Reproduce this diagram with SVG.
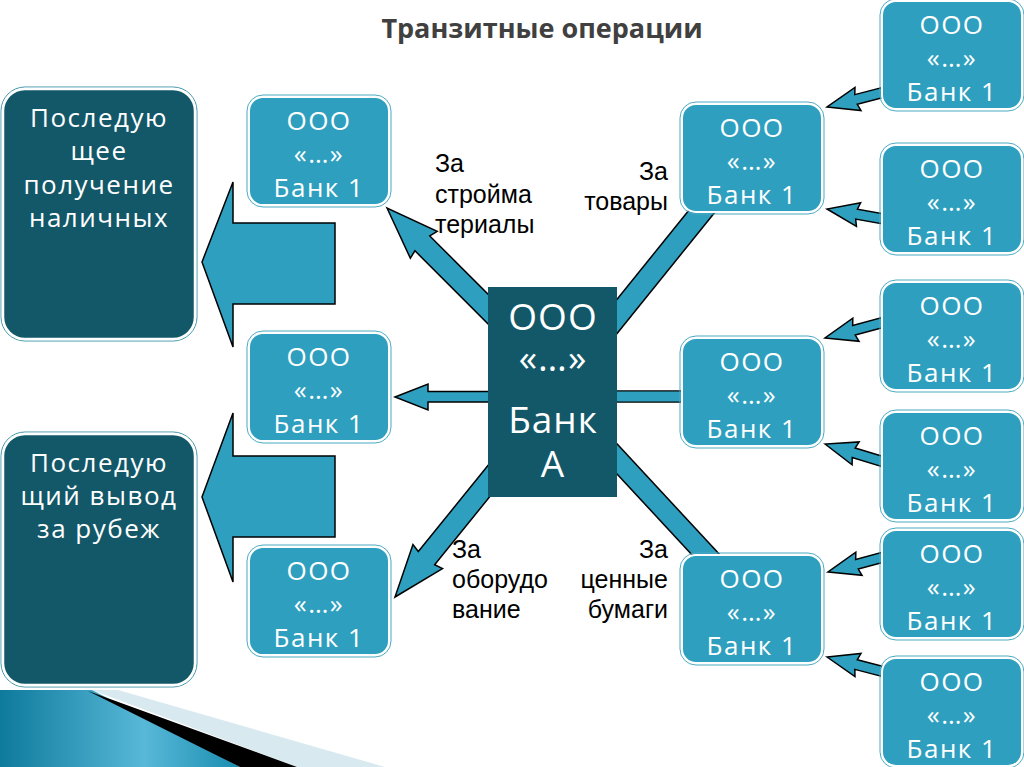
<svg xmlns="http://www.w3.org/2000/svg" width="1024" height="767" viewBox="0 0 1024 767">
<defs>
<style>
.dk{fill:#135869;stroke:#ffffff;stroke-width:2.5}
.dko{fill:none;stroke:#3f95aa;stroke-width:1}
.bx{fill:#2e9fbe;stroke:#ffffff;stroke-width:2}
.bxo{fill:none;stroke:#4aa9c2;stroke-width:1}
.bt{font-family:"Open Sans","DejaVu Sans",sans-serif;font-size:26px;fill:#ffffff;text-anchor:middle;letter-spacing:1.5px}
.ct{font-family:"Open Sans","DejaVu Sans",sans-serif;font-size:37px;fill:#ffffff;text-anchor:middle;letter-spacing:1px}
.lt{font-family:"Open Sans","DejaVu Sans",sans-serif;font-size:26px;fill:#ffffff;text-anchor:middle;letter-spacing:1.5px}
.lb{font-family:"Liberation Sans",Arial,sans-serif;font-size:25px;fill:#000000}
.ar{fill:#2e9fbe;stroke:#000000;stroke-width:1.5;stroke-linejoin:miter}
.lnk{stroke:#000000;fill:none}
.lnt{stroke:#2e9fbe;fill:none}
</style>
<linearGradient id="tg" x1="0" y1="0" x2="240" y2="0" gradientUnits="userSpaceOnUse">
<stop offset="0" stop-color="#0e7a9c"/>
<stop offset="0.6" stop-color="#58b8d8"/>
<stop offset="1" stop-color="#1a8db0"/>
</linearGradient>
</defs>
<rect width="1024" height="767" fill="#ffffff"/>

<g id="decoration">
<polygon points="92,690 118,690 385,767 297,767" fill="#d8e9f0"/>
<polygon points="0,690 92,690 240,767 0,767" fill="url(#tg)"/>
<polygon points="88,691 297,767 240,767" fill="#000000"/>
</g>

<text x="542" y="38" font-family="'Open Sans','DejaVu Sans',sans-serif" font-size="27" font-weight="bold" fill="#404040" text-anchor="middle">Транзитные операции</text>

<g id="connectors">
<polygon class="ar" points="202,262 233,182 233,223 335,223 335,304 233,304 233,347"/>
<polygon class="ar" points="202,497 233,413 233,456 335,456 335,537 233,537 233,582"/>
<polygon class="ar" transform="translate(387,208) rotate(225)" points="0,0 -52,-19 -50,-10.5 -200,-10.5 -200,10.5 -50,10.5 -52,19"/>
<polygon class="ar" transform="translate(395,597) rotate(129)" points="0,0 -52,-19 -50,-10.5 -200,-10.5 -200,10.5 -50,10.5 -52,19"/>
<polygon class="ar" points="395,397 428,384 428,391.5 500,391.5 500,402 428,402 428,410"/>
<line class="lnk" x1="575" y1="368.5" x2="715" y2="195" stroke-width="23"/>
<line class="lnt" x1="575" y1="368.5" x2="715" y2="195" stroke-width="20"/>
<line class="lnk" x1="580" y1="419" x2="720" y2="570" stroke-width="22"/>
<line class="lnt" x1="580" y1="419" x2="720" y2="570" stroke-width="19"/>
<line class="lnk" x1="600" y1="396.5" x2="700" y2="396.5" stroke-width="12.5"/>
<line class="lnt" x1="600" y1="396.5" x2="700" y2="396.5" stroke-width="10"/>
<polygon class="ar" transform="translate(827,107) rotate(165.5)" points="0,0 -32,-12 -30,-5 -62,-5 -62,5 -30,5 -32,12"/>
<polygon class="ar" transform="translate(827,209) rotate(190)" points="0,0 -32,-12 -30,-5 -62,-5 -62,5 -30,5 -32,12"/>
<polygon class="ar" transform="translate(825,338) rotate(165)" points="0,0 -32,-12 -30,-5 -62,-5 -62,5 -30,5 -32,12"/>
<polygon class="ar" transform="translate(825,444) rotate(197)" points="0,0 -32,-12 -30,-5 -62,-5 -62,5 -30,5 -32,12"/>
<polygon class="ar" transform="translate(828,572) rotate(165)" points="0,0 -32,-12 -30,-5 -62,-5 -62,5 -30,5 -32,12"/>
<polygon class="ar" transform="translate(827,657) rotate(194.5)" points="0,0 -32,-12 -30,-5 -62,-5 -62,5 -30,5 -32,12"/>
</g>

<g id="left-box-1">
<rect class="dko" x="1" y="87" width="196" height="254" rx="24"/>
<rect class="dk" x="3" y="89" width="192" height="250" rx="22"/>
<text class="lt" x="99" y="127">Последую</text>
<text class="lt" x="99" y="160">щее</text>
<text class="lt" x="99" y="194">получение</text>
<text class="lt" x="99" y="227">наличных</text>
</g>
<g id="left-box-2">
<rect class="dko" x="1" y="432" width="196" height="255" rx="24"/>
<rect class="dk" x="3" y="434" width="192" height="251" rx="22"/>
<text class="lt" x="99" y="472">Последую</text>
<text class="lt" x="99" y="505">щий вывод</text>
<text class="lt" x="99" y="538">за рубеж</text>
</g>

<g id="center">
<rect x="488" y="287" width="129" height="210" fill="#135869"/>
<text class="ct" x="553" y="330">ООО</text>
<text class="ct" x="553" y="371">«…»</text>
<text class="ct" x="553" y="433">Банк</text>
<text class="ct" x="553" y="477">А</text>
</g>

<g id="L1"><rect class="bxo" x="247" y="95" width="144" height="112" rx="16"/><rect class="bx" x="249" y="97" width="140" height="108" rx="14"/><text class="bt" x="319" y="130">ООО</text><text class="bt" x="319" y="163">«…»</text><text class="bt" x="319" y="197">Банк 1</text></g>
<g id="L2"><rect class="bxo" x="247" y="331" width="144" height="112" rx="16"/><rect class="bx" x="249" y="333" width="140" height="108" rx="14"/><text class="bt" x="319" y="366">ООО</text><text class="bt" x="319" y="399">«…»</text><text class="bt" x="319" y="433">Банк 1</text></g>
<g id="L3"><rect class="bxo" x="247" y="545" width="144" height="112" rx="16"/><rect class="bx" x="249" y="547" width="140" height="108" rx="14"/><text class="bt" x="319" y="580">ООО</text><text class="bt" x="319" y="613">«…»</text><text class="bt" x="319" y="647">Банк 1</text></g>

<g id="R1"><rect class="bxo" x="680" y="102" width="144" height="112" rx="16"/><rect class="bx" x="682" y="104" width="140" height="108" rx="14"/><text class="bt" x="752" y="137">ООО</text><text class="bt" x="752" y="170">«…»</text><text class="bt" x="752" y="204">Банк 1</text></g>
<g id="R2"><rect class="bxo" x="680" y="336" width="144" height="112" rx="16"/><rect class="bx" x="682" y="338" width="140" height="108" rx="14"/><text class="bt" x="752" y="371">ООО</text><text class="bt" x="752" y="404">«…»</text><text class="bt" x="752" y="438">Банк 1</text></g>
<g id="R3"><rect class="bxo" x="680" y="553" width="144" height="112" rx="16"/><rect class="bx" x="682" y="555" width="140" height="108" rx="14"/><text class="bt" x="752" y="588">ООО</text><text class="bt" x="752" y="621">«…»</text><text class="bt" x="752" y="655">Банк 1</text></g>

<g id="FR1"><rect class="bxo" x="880" y="-1" width="144" height="112" rx="16"/><rect class="bx" x="882" y="1" width="140" height="108" rx="14"/><text class="bt" x="952" y="34">ООО</text><text class="bt" x="952" y="67">«…»</text><text class="bt" x="952" y="101">Банк 1</text></g>
<g id="FR2"><rect class="bxo" x="880" y="143" width="144" height="112" rx="16"/><rect class="bx" x="882" y="145" width="140" height="108" rx="14"/><text class="bt" x="952" y="178">ООО</text><text class="bt" x="952" y="211">«…»</text><text class="bt" x="952" y="245">Банк 1</text></g>
<g id="FR3"><rect class="bxo" x="880" y="280" width="144" height="112" rx="16"/><rect class="bx" x="882" y="282" width="140" height="108" rx="14"/><text class="bt" x="952" y="315">ООО</text><text class="bt" x="952" y="348">«…»</text><text class="bt" x="952" y="382">Банк 1</text></g>
<g id="FR4"><rect class="bxo" x="880" y="410" width="144" height="112" rx="16"/><rect class="bx" x="882" y="412" width="140" height="108" rx="14"/><text class="bt" x="952" y="445">ООО</text><text class="bt" x="952" y="478">«…»</text><text class="bt" x="952" y="512">Банк 1</text></g>
<g id="FR5"><rect class="bxo" x="880" y="528" width="144" height="112" rx="16"/><rect class="bx" x="882" y="530" width="140" height="108" rx="14"/><text class="bt" x="952" y="563">ООО</text><text class="bt" x="952" y="596">«…»</text><text class="bt" x="952" y="630">Банк 1</text></g>
<g id="FR6"><rect class="bxo" x="880" y="656" width="144" height="112" rx="16"/><rect class="bx" x="882" y="658" width="140" height="108" rx="14"/><text class="bt" x="952" y="691">ООО</text><text class="bt" x="952" y="724">«…»</text><text class="bt" x="952" y="758">Банк 1</text></g>

<g id="labels">
<text class="lb" x="435" y="172">За</text>
<text class="lb" x="435" y="203">стройма</text>
<text class="lb" x="435" y="233">териалы</text>
<text class="lb" x="668" y="180" text-anchor="end">За</text>
<text class="lb" x="668" y="210" text-anchor="end">товары</text>
<text class="lb" x="452" y="558">За</text>
<text class="lb" x="452" y="588">оборудо</text>
<text class="lb" x="452" y="618">вание</text>
<text class="lb" x="668" y="558" text-anchor="end">За</text>
<text class="lb" x="668" y="588" text-anchor="end">ценные</text>
<text class="lb" x="668" y="618" text-anchor="end">бумаги</text>
</g>
</svg>
